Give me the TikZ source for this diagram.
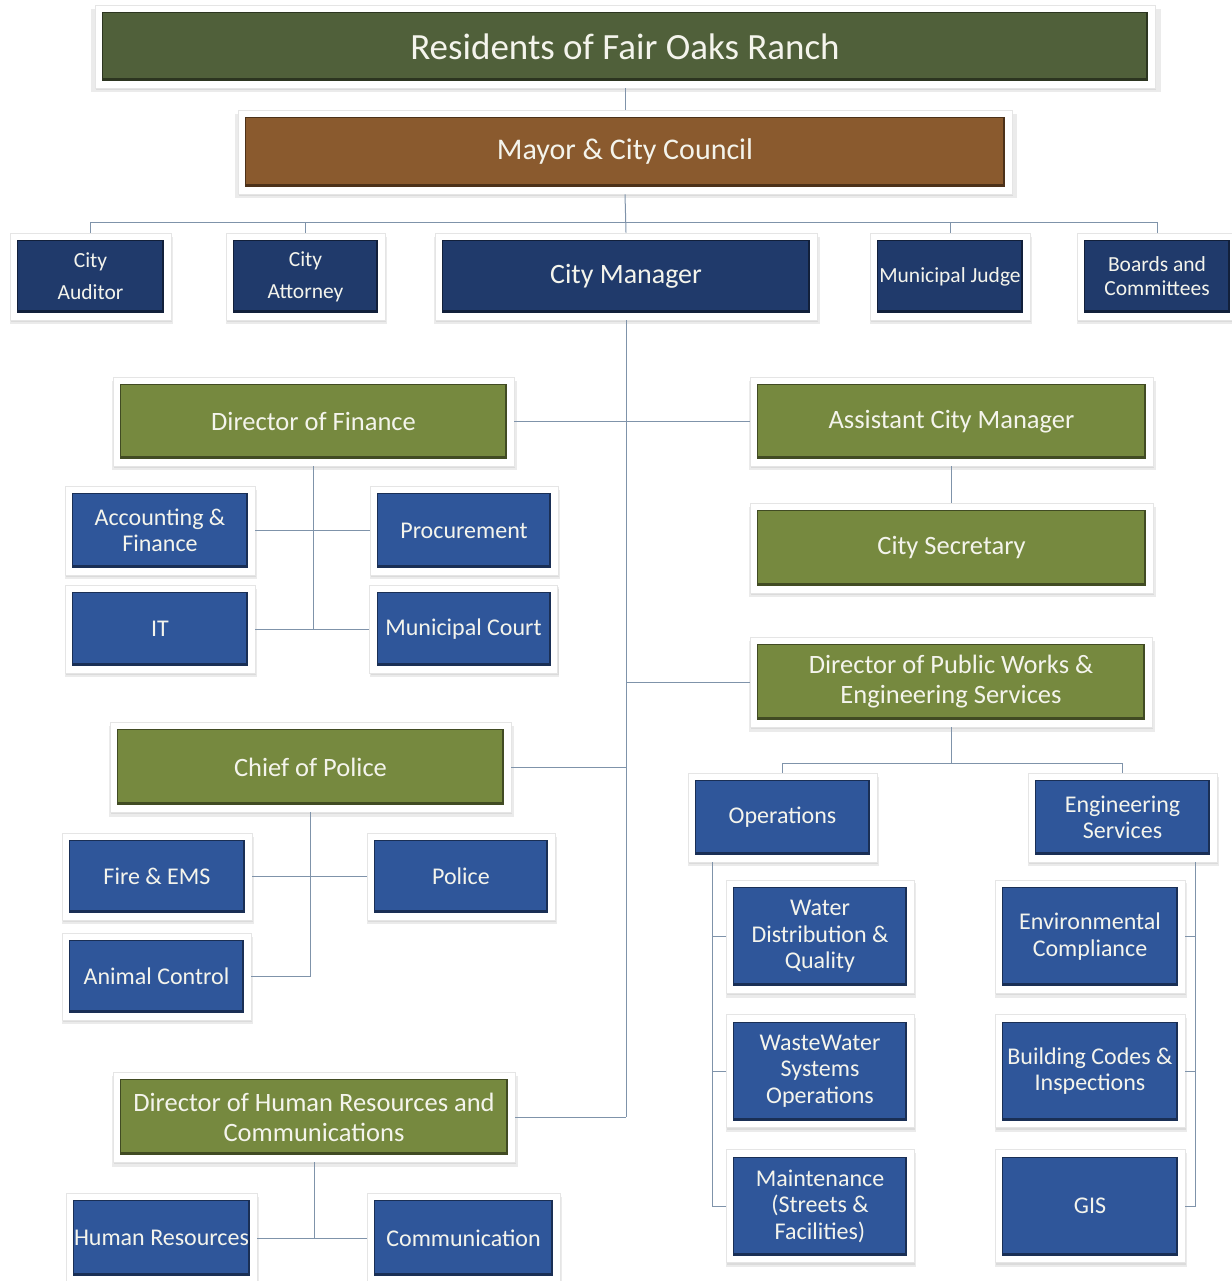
\documentclass[tikz,border=0pt]{standalone}
\usepackage{fontspec}
\setmainfont{Carlito}
\usetikzlibrary{shadows}
\definecolor{resc}{HTML}{50603A}
\definecolor{brownc}{HTML}{8A5A2E}
\definecolor{navyc}{HTML}{203A6B}
\definecolor{bluec}{HTML}{2F569A}
\definecolor{olivec}{HTML}{76893F}
\definecolor{linec}{HTML}{7F93AA}
\definecolor{textc}{HTML}{F4F4EC}
\tikzset{
  conn/.style={draw=linec, line width=1pt},
  orgbox/.style={rectangle, fill=white, draw=black!10, line width=0.6pt, inner sep=0pt, align=center, text=textc,
    general shadow={shadow xshift=1pt, shadow yshift=-4pt, shadow scale=1.01, fill=black, opacity=0.08},
    drop shadow={shadow xshift=1pt, shadow yshift=-2pt, opacity=0.15},
    path picture={
      \fill[#1!55!black] ([shift={(7pt,-7pt)}]path picture bounding box.north west) rectangle ([shift={(-7pt,7pt)}]path picture bounding box.south east);
      \fill[#1] ([shift={(8pt,-8pt)}]path picture bounding box.north west) rectangle ([shift={(-9pt,10pt)}]path picture bounding box.south east);
    }},
  resbox/.style={orgbox=resc, font=\fontsize{37}{42}\selectfont},
  mayorbox/.style={orgbox=brownc, font=\fontsize{30}{34}\selectfont},
  navybox/.style={orgbox=navyc, font=\fontsize{21.5}{32}\selectfont},
  cmbox/.style={orgbox=navyc, font=\fontsize{28}{32}\selectfont},
  greenbox/.style={orgbox=olivec, font=\fontsize{26.5}{30}\selectfont},
  bluebox/.style={orgbox=bluec, font=\fontsize{24}{26.5}\selectfont},
}
\begin{document}
\begin{tikzpicture}[x=1pt,y=-1pt]
\useasboundingbox (0,0) rectangle (1231,1281);
% top levels
\node[resbox, minimum width=1060, minimum height=83] (res) at (625,46.5) {Residents of Fair Oaks Ranch};
\node[mayorbox, minimum width=774, minimum height=84] (mayor) at (625,152) {Mayor \& City Council};
% row 3
\node[navybox, minimum width=161, minimum height=87] (aud) at (90.5,276.5) {City\\Auditor};
\node[navybox, minimum width=159, minimum height=87] (att) at (305.5,276.5) {City\\Attorney};
\node[cmbox, minimum width=382, minimum height=87] (cm) at (626,276.5) {City Manager};
\node[navybox, minimum width=160, minimum height=87] (jud) at (950,276.5) {Municipal Judge};
\node[navybox, minimum width=160, minimum height=87, font=\fontsize{21.5}{24}\selectfont] (bc) at (1157,276.5) {Boards and\\Committees};
% directors
\node[greenbox, minimum width=401, minimum height=89] (dof) at (313.5,421.5) {Director of Finance};
\node[greenbox, minimum width=403, minimum height=89] (acm) at (951.5,421.5) {Assistant City Manager};
\node[greenbox, minimum width=403, minimum height=90] (cs) at (951.5,548) {City Secretary};
\node[greenbox, minimum width=402, minimum height=90] (pw) at (951,682) {Director of Public Works \&\\Engineering Services};
\node[greenbox, minimum width=401, minimum height=90] (cop) at (310.5,767) {Chief of Police};
\node[greenbox, minimum width=402, minimum height=90] (hr) at (314,1117) {Director of Human Resources and\\Communications};
% finance children
\node[bluebox, minimum width=190, minimum height=89] (acc) at (160,530.5) {Accounting \&\\Finance};
\node[bluebox, minimum width=188, minimum height=89] (proc) at (464,530.5) {Procurement};
\node[bluebox, minimum width=190, minimum height=88] (it) at (160,629) {IT};
\node[bluebox, minimum width=188, minimum height=88] (mc) at (463.5,629) {Municipal Court};
% police children
\node[bluebox, minimum width=190, minimum height=87] (fire) at (157,876.5) {Fire \& EMS};
\node[bluebox, minimum width=188, minimum height=87] (pol) at (461,876.5) {Police};
\node[bluebox, minimum width=189, minimum height=87] (ac) at (156.5,976.5) {Animal Control};
% hr children
\node[bluebox, minimum width=191, minimum height=90] (hres) at (161.5,1238) {Human Resources};
\node[bluebox, minimum width=193, minimum height=90] (comm) at (463.5,1238) {Communication};
% public works children
\node[bluebox, minimum width=189, minimum height=89] (ops) at (782.5,817.5) {Operations};
\node[bluebox, minimum width=189, minimum height=89] (eng) at (1122.5,817.5) {Engineering\\Services};
\node[bluebox, minimum width=188, minimum height=113] (water) at (820,936.5) {Water\\Distribution \&\\Quality};
\node[bluebox, minimum width=188, minimum height=113] (ww) at (820,1071) {WasteWater\\Systems\\Operations};
\node[bluebox, minimum width=188, minimum height=113] (maint) at (820,1206) {Maintenance\\(Streets \&\\Facilities)};
\node[bluebox, minimum width=190, minimum height=113] (env) at (1090,936.5) {Environmental\\Compliance};
\node[bluebox, minimum width=190, minimum height=113] (bci) at (1090,1071) {Building Codes \&\\Inspections};
\node[bluebox, minimum width=190, minimum height=113] (gis) at (1090,1206) {GIS};
% coordinates
\coordinate (bar) at (625,223);
\coordinate (pwbar) at (951,763);
\coordinate (ospine) at (712,0);
\coordinate (espine) at (1195,0);
% connectors
\draw[conn] (res.south) -- (mayor.north);
\draw[conn] (mayor.south) -- (cm.north);
\draw[conn] (aud.north) -- (aud.north |- bar) -- (bc.north |- bar) -- (bc.north);
\draw[conn] (att.north) -- (att.north |- bar);
\draw[conn] (jud.north) -- (jud.north |- bar);
\draw[conn] (cm.south) -- (cm.south |- hr.east);
\draw[conn] (dof.east) -- (dof.east -| cm.south);
\draw[conn] (acm.west) -- (acm.west -| cm.south);
\draw[conn] (pw.west) -- (pw.west -| cm.south);
\draw[conn] (cop.east) -- (cop.east -| cm.south);
\draw[conn] (hr.east) -- (hr.east -| cm.south);
\draw[conn] (acm.south) -- (cs.north);
\draw[conn] (dof.south) -- (dof.south |- it.east);
\draw[conn] (acc.east) -- (proc.west);
\draw[conn] (it.east) -- (mc.west);
\draw[conn] (cop.south) -- (cop.south |- ac.east);
\draw[conn] (fire.east) -- (pol.west);
\draw[conn] (ac.east) -- (ac.east -| cop.south);
\draw[conn] (hr.south) -- (hr.south |- hres.east);
\draw[conn] (hres.east) -- (comm.west);
\draw[conn] (pw.south) -- (pw.south |- pwbar);
\draw[conn] (ops.north) -- (ops.north |- pwbar) -- (eng.north |- pwbar) -- (eng.north);
\draw[conn] (ops.south -| ospine) -- (ospine |- maint.west) -- (maint.west);
\draw[conn] (water.west) -- (water.west -| ospine);
\draw[conn] (ww.west) -- (ww.west -| ospine);
\draw[conn] (eng.south -| espine) -- (espine |- gis.east) -- (gis.east);
\draw[conn] (env.east) -- (env.east -| espine);
\draw[conn] (bci.east) -- (bci.east -| espine);
\end{tikzpicture}
\end{document}
